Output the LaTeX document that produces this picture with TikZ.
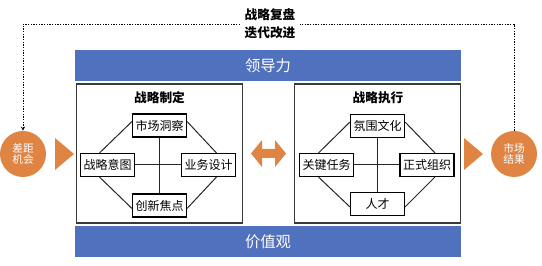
\documentclass[tikz,border=0pt]{standalone}
\usepackage{fontspec}
\setmainfont{Noto Sans CJK SC}
\usetikzlibrary{positioning,arrows.meta,calc}
\definecolor{BarBlue}{HTML}{4F71BE}
\definecolor{GoOrange}{HTML}{E08443}
\definecolor{EdgeGray}{HTML}{3A3A3A}

\begin{document}
\begin{tikzpicture}[
  x=0.75pt, y=-0.75pt,
  bar/.style={fill=BarBlue, text=white, minimum width=289.5pt, minimum height=23.25pt, inner sep=0pt, font=\fontsize{11.5}{12}\selectfont},
  frame/.style={draw=EdgeGray, line width=0.9pt, minimum width=124.5pt, minimum height=104.25pt},
  title/.style={font=\bfseries\fontsize{9.5}{11}\selectfont},
  box/.style={draw=black, line width=0.8pt, fill=white, minimum width=40.5pt, minimum height=17.25pt, inner sep=1pt, font=\fontsize{9}{10}\selectfont},
  bubble/.style={circle, fill=GoOrange, text=white, minimum size=34.5pt, inner sep=0pt, align=center, font=\fontsize{8}{8.5}\selectfont},
  link/.style={line width=0.75pt, black!85},
  review/.style={line width=0.7pt, dash pattern=on 1pt off 1pt}
]
\useasboundingbox (0,0) rectangle (542,266);

% bars and frames
\node[bar] (ldl) at (268,65.5) {领导力};
\node[bar] (jzg) at (268,241.5) {价值观};
\node[frame] (zd) at (159.5,153.5) {};
\node[frame] (zx) at (377.5,153.5) {};
\node[title] (zdt) at (159.5,98) {战略制定};
\node[title] (zxt) at (378,98) {战略执行};

% 战略制定
\node[box] (sczc) at (159.5,125.5) {市场洞察};
\node[box] (zlyt) at (107.5,165) {战略意图};
\node[box] (ywsj) at (208.5,165) {业务设计};
\node[box] (cxjd) at (159.5,205.5) {创新焦点};
\draw[link] (sczc) -- (cxjd);
\draw[link] (zlyt) -- (ywsj);
\draw[link] ($(sczc.west)+(0,-4)$) -- ($(zlyt.north)+(-8,0)$);
\draw[link] ($(zlyt.south)+(-8,0)$) -- ($(cxjd.west)+(0,3)$);
\draw[link] ($(sczc.east)+(0,-4)$) -- ($(ywsj.north)+(8,0)$);
\draw[link] ($(ywsj.south)+(8,0)$) -- ($(cxjd.east)+(0,3)$);

% 战略执行
\node[box] (fwwh) at (377.5,126) {氛围文化};
\node[box] (gjrw) at (326.5,165) {关键任务};
\node[box] (zszz) at (427,165) {正式组织};
\node[box] (rc) at (377.5,204) {人才};
\draw[link] (fwwh) -- (rc);
\draw[link] (gjrw) -- (zszz);
\draw[link] ($(fwwh.west)+(0,-4)$) -- ($(gjrw.north)+(-8,0)$);
\draw[link] ($(gjrw.south)+(-8,0)$) -- ($(rc.west)+(0,3)$);
\draw[link] ($(fwwh.east)+(0,-4)$) -- ($(zszz.north)+(8,0)$);
\draw[link] ($(zszz.south)+(8,0)$) -- ($(rc.east)+(0,3)$);

% circles and arrows
\node[bubble] (cjjh) at (23,154) {差距\\机会};
\node[bubble] (scjg) at (514,154) {市场\\结果};
\fill[GoOrange] (55,138) -- (55,170) -- (74,154) -- cycle;
\fill[GoOrange] (464,138) -- (464,170) -- (483,154) -- cycle;
\fill[GoOrange] (251,153.5) -- (262,140) -- (262,149) -- (275,149) -- (275,140)
  -- (286,153.5) -- (275,167) -- (275,158) -- (262,158) -- (262,167) -- cycle;

% review loop
\node[font=\bfseries\fontsize{9.5}{13.5}\selectfont, align=center, inner xsep=3.4pt, inner ysep=0pt] (fupan) at (270,24) {战略复盘\\迭代改进};
\draw[review] (scjg.north) |- (fupan.east);
\draw[review, -{Stealth[length=3pt,width=3pt]}] (fupan.west) -| (cjjh.north);
\end{tikzpicture}
\end{document}
